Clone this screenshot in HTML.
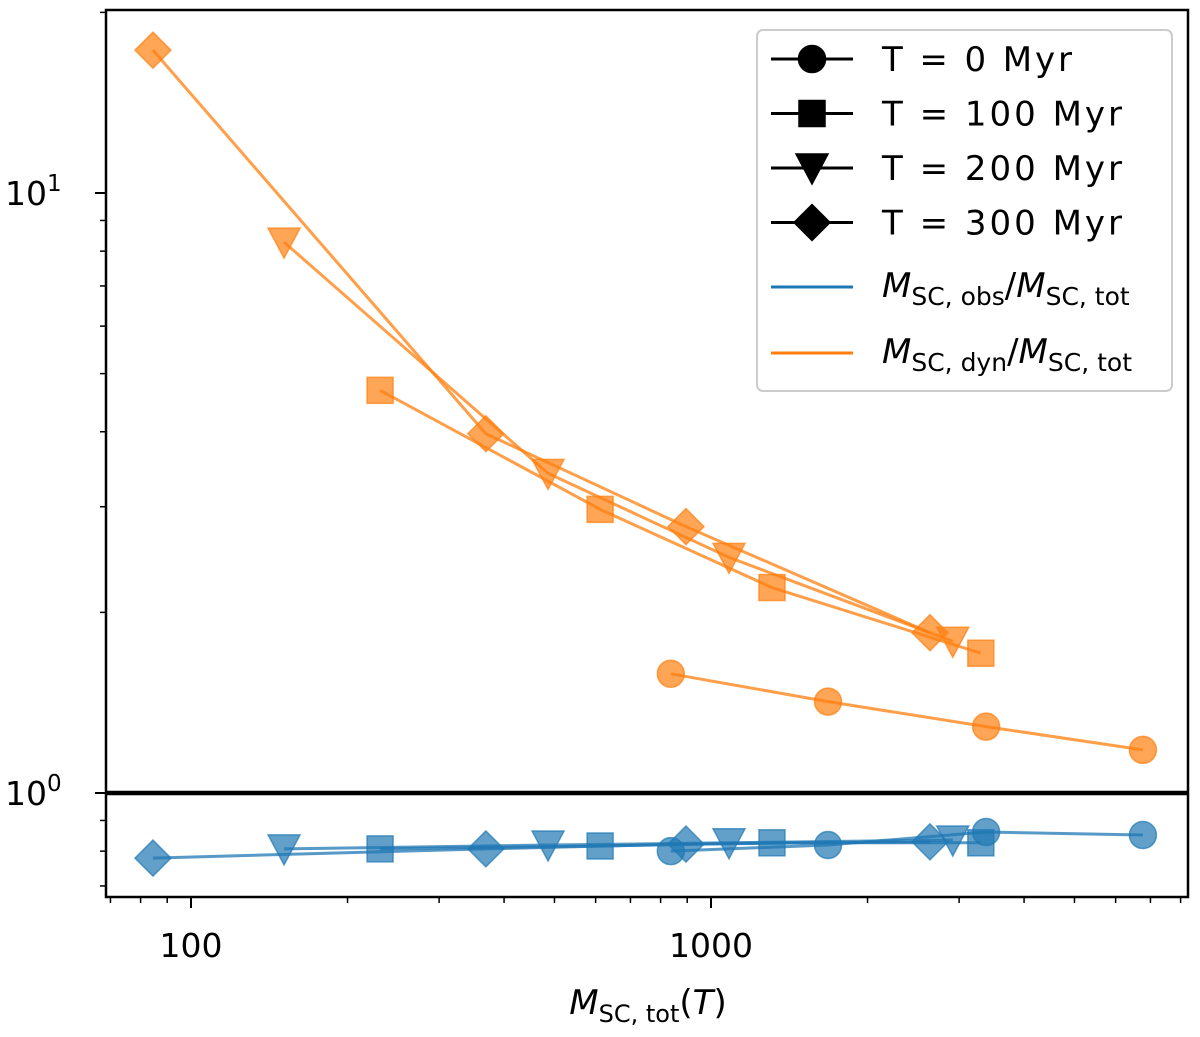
<!DOCTYPE html>
<html><head><meta charset="utf-8"><style>
body{margin:0;background:#fff}
svg text{font-family:"DejaVu Sans","Liberation Sans",sans-serif;fill:#000}
</style></head><body>
<svg width="1200" height="1032" viewBox="0 0 1200 1032" xmlns="http://www.w3.org/2000/svg">
<g id="plot"></g>
<g id="axes"></g>
<g id="legend"></g>
</svg>
<script>
const xs300=[84.5,369,895,2637];
const dyn300=[17.3,3.97,2.78,1.85];
const obs300=[0.779,0.807,0.822,0.829];
const xs200=[151,486,1083,2917];
const dyn200=[8.28,3.41,2.47,1.79];
const obs200=[0.807,0.819,0.826,0.835];
const xs100=[231,612,1310,3303];
const dyn100=[4.69,2.97,2.20,1.71];
const obs100=[0.807,0.816,0.826,0.826];
const xs0=[837,1679,3381,6770];
const dyn0=[1.58,1.42,1.29,1.18];
const obs0=[0.80,0.819,0.861,0.851];
const xTickLabels=["100","1000"];

const NS="http://www.w3.org/2000/svg";
const L=106,R=1188,T=10,B=897;
function X(v){return 191+(Math.log10(v)-2)*520;}
function Y(v){return 793-Math.log10(v)*600;}
function mk(tag,attrs,parent){const e=document.createElementNS(NS,tag);for(const k in attrs)e.setAttribute(k,attrs[k]);parent.appendChild(e);return e;}
const plot=document.getElementById('plot'),axes=document.getElementById('axes'),leg=document.getElementById('legend');
const OR="#ff7f0e",BL="#1f77b4";
function marker(type,cx,cy,col,parent,alpha){
  let e;
  if(type==='o'){e=mk('circle',{cx:cx,cy:cy,r:13.5},parent);}
  else if(type==='s'){e=mk('rect',{x:cx-13,y:cy-13,width:26,height:26},parent);}
  else if(type==='v'){e=mk('polygon',{points:`${cx-16},${cy-14} ${cx+16},${cy-14} ${cx},${cy+16}`},parent);}
  else {e=mk('polygon',{points:`${cx},${cy-18} ${cx+18},${cy} ${cx},${cy+18} ${cx-18},${cy}`},parent);}
  e.setAttribute('fill',col);e.setAttribute('stroke',col);e.setAttribute('stroke-width',1.5);
  e.setAttribute('fill-opacity',alpha);e.setAttribute('stroke-opacity',alpha);
  return e;
}
const groups=[['T300','D',xs300,dyn300,obs300],['T200','v',xs200,dyn200,obs200],['T100','s',xs100,dyn100,obs100],['T0','o',xs0,dyn0,obs0]];
for(const [ser,col] of [[3,OR],[4,BL]]){
  for(const g of groups){
    const pts=g[2].map((x,i)=>X(x)+','+Y(g[ser][i])).join(' ');
    const pl=mk('polyline',{points:pts,fill:'none',stroke:col,'stroke-width':3,'stroke-opacity':0.75},plot);
    
    
    g[2].forEach((x,i)=>{
      const m=marker(g[1],X(x),Y(g[ser][i]),col,plot,0.7);
      
      
    });
  }
}
const ref=mk('line',{x1:L,x2:R,y1:Y(1),y2:Y(1),stroke:'#000','stroke-width':4.5},plot);


const fr=mk('rect',{x:L,y:T,width:R-L,height:B-T,fill:'none',stroke:'#000','stroke-width':2.5},axes);


for(let d=10;d<=1000;d*=10)for(let k=1;k<10;k++){
  const v=d*k,x=X(v);if(x<L||x>R)continue;
  const major=k===1;
  mk('line',{x1:x,x2:x,y1:B,y2:B+(major?11:6),stroke:'#000','stroke-width':major?2:1.5},axes);
}
[100,1000].forEach((v,i)=>{const t=mk('text',{x:X(v),y:B+60,'font-size':33,'text-anchor':'middle'},axes);t.textContent=xTickLabels[i];
});
for(let d=0.1;d<=10;d*=10)for(let k=1;k<10;k++){
  const v=d*k,y=Y(v);if(y<T||y>B)continue;
  const major=k===1;
  mk('line',{x1:L,x2:L-(major?11:6),y1:y,y2:y,stroke:'#000','stroke-width':major?2:1.5},axes);
}
[[1,'1'],[0,'0']].forEach(([p,s])=>{const t=mk('text',{x:5,y:Y(Math.pow(10,p))+12,'font-size':33},axes);
t.innerHTML='10<tspan dy="-14" font-size="23">'+s+'</tspan>';
});
const xl=mk('text',{x:648,y:1014,'font-size':34,'text-anchor':'middle'},axes);
xl.innerHTML='<tspan font-style="italic">M</tspan><tspan font-size="24" dy="8">SC, tot</tspan><tspan dy="-8">(</tspan><tspan font-style="italic">T</tspan>)';

const lb=mk('rect',{x:757,y:30,width:415,height:361,rx:6,fill:'#fff','fill-opacity':0.85,stroke:'#ccc','stroke-width':2},leg);

const lab=['T = 0 Myr','T = 100 Myr','T = 200 Myr','T = 300 Myr'];
['o','s','v','D'].forEach((m,i)=>{
  const y=59+i*54.5;
  mk('line',{x1:771,x2:853,y1:y,y2:y,stroke:'#000','stroke-width':3},leg);
  marker(m,812,y,'#000',leg,1);
  const t=mk('text',{x:882,y:y+12,'font-size':34,textLength:i===0?190:240},leg);t.textContent=lab[i];
  
});
[[BL,'obs',287],[OR,'dyn',353]].forEach(([c,s,y])=>{
  mk('line',{x1:771,x2:853,y1:y,y2:y,stroke:c,'stroke-width':3},leg);
  const t=mk('text',{x:882,y:y+10,'font-size':34},leg);
  t.innerHTML='<tspan font-style="italic">M</tspan><tspan font-size="25" dy="8">SC, '+s+'</tspan><tspan dy="-8">/</tspan><tspan font-style="italic">M</tspan><tspan font-size="25" dy="8">SC, tot</tspan>';
  
});
</script>
</body></html>
